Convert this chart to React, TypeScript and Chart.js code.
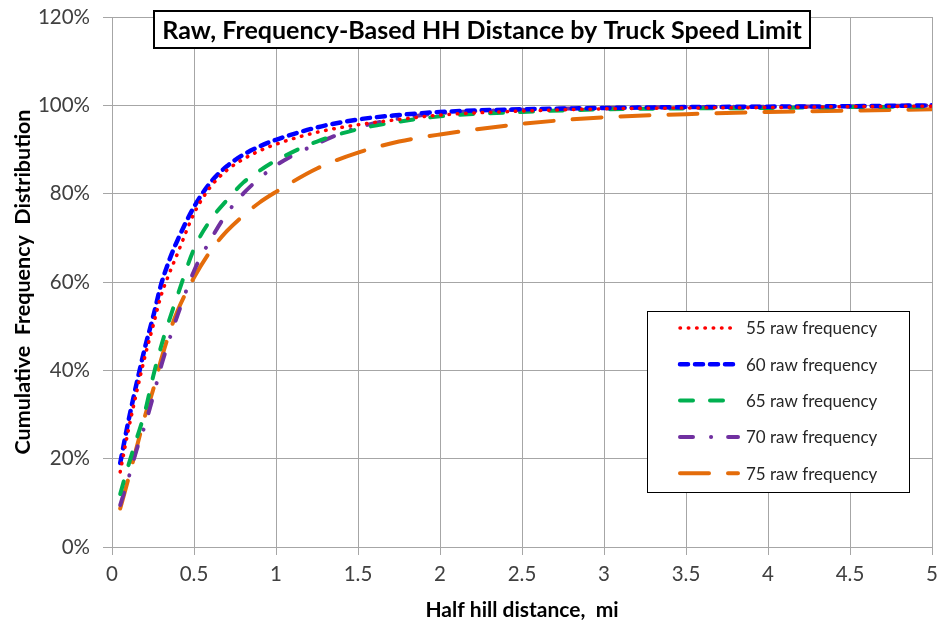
import React, { useEffect, useRef } from 'react';
import { Chart, registerables } from 'chart.js';

Chart.register(...registerables);

const FONT = 'Lato, "Open Sans", sans-serif';

const chartTitle = 'Raw, Frequency-Based HH Distance by Truck Speed Limit';
const xTitle = 'Half hill distance,  mi';
const yTitle = 'Cumulative  Frequency  Distribution';

const distances = [0.05, 0.1, 0.15, 0.2, 0.25, 0.3, 0.35, 0.4, 0.5, 0.6, 0.7, 0.8, 0.9, 1.0, 1.25, 1.5, 1.75, 2.0, 2.5, 3.0, 3.5, 4.0, 4.5, 5.0];

const raw55 = [17, 26.5, 35, 43, 50, 57, 62, 66.5, 75.5, 81.5, 85.3, 87.8, 89.7, 91.2, 93.9, 95.6, 96.8, 97.8, 98.7, 99.2, 99.4, 99.5, 99.7, 99.8];
const raw60 = [19, 28.5, 37, 45, 52, 59.5, 65, 69.5, 77, 82.5, 86.2, 88.8, 90.7, 92.2, 95, 96.8, 97.8, 98.5, 99.1, 99.4, 99.6, 99.7, 99.8, 100];
const raw65 = [12, 18.5, 24.5, 30.5, 38.5, 45.5, 51.5, 57, 67.5, 74, 78.5, 82.5, 85.2, 87.5, 91.8, 94.6, 96.3, 97.5, 98.5, 99.1, 99.3, 99.4, 99.6, 99.7];
const raw70 = [9.5, 15.5, 22, 27.5, 34, 41, 47, 52.5, 62.5, 69.5, 75.5, 80, 83.5, 86.4, 91.3, 95, 97, 98.2, 99, 99.4, 99.6, 99.7, 99.8, 100];
const raw75 = [8.7, 15.5, 22.5, 29.5, 35.5, 42.5, 48.5, 53.5, 61, 67, 71.5, 75, 78, 80.4, 85.7, 89.3, 91.8, 93.4, 95.8, 97.3, 98, 98.5, 98.8, 99.1];

const seriesLabels = ['55 raw frequency', '60 raw frequency', '65 raw frequency', '70 raw frequency', '75 raw frequency'];
const seriesValues = [raw55, raw60, raw65, raw70, raw75];
const seriesColors = ['#FF0000', '#0000FF', '#00B050', '#7030A0', '#E46C0A'];
const seriesWidths = [3.5, 4.5, 4, 4, 4];
const seriesDashes = [[0.5, 7.8], [8, 7], [13, 17], [13, 18, 0.1, 17], [29, 19]];

const titleBoxPlugin = {
  id: 'titleBox',
  afterDraw(chart: any) {
    const ctx = chart.ctx;
    ctx.save();
    const bx = 154, by = 11, bw = 656, bh = 37;
    ctx.fillStyle = '#ffffff';
    ctx.fillRect(bx, by, bw, bh);
    ctx.strokeStyle = '#000000';
    ctx.lineWidth = 2;
    ctx.strokeRect(bx, by, bw, bh);
    ctx.font = `bold 22px ${FONT}`;
    const m = ctx.measureText(chartTitle).width;
    const size = Math.min(26, (22 * 640) / m);
    ctx.font = `bold ${size}px ${FONT}`;
    ctx.fillStyle = '#000000';
    ctx.textAlign = 'center';
    ctx.textBaseline = 'middle';
    ctx.fillText(chartTitle, bx + bw / 2, by + bh / 2 + 1);
    ctx.restore();
  },
};

const boxLegendPlugin = {
  id: 'boxLegend',
  afterDraw(chart: any) {
    const ctx = chart.ctx;
    ctx.save();
    const x0 = 647, y0 = 311, w = 262, h = 181;
    ctx.fillStyle = '#ffffff';
    ctx.fillRect(x0, y0, w, h);
    ctx.strokeStyle = '#000000';
    ctx.lineWidth = 1;
    ctx.strokeRect(x0 + 0.5, y0 + 0.5, w, h);
    chart.data.datasets.forEach((ds: any, i: number) => {
      const cy = 328 + i * 36.3;
      ctx.save();
      ctx.strokeStyle = ds.borderColor;
      ctx.lineWidth = ds.borderWidth;
      ctx.setLineDash(ds.borderDash || []);
      ctx.lineCap = 'round';
      ctx.beginPath();
      ctx.moveTo(680, cy);
      ctx.lineTo(738, cy);
      ctx.stroke();
      ctx.restore();
      ctx.fillStyle = '#262626';
      ctx.font = `17px ${FONT}`;
      ctx.textAlign = 'left';
      ctx.textBaseline = 'middle';
      ctx.fillText(ds.label, 746, cy + 1);
    });
    ctx.restore();
  },
};

export default function App() {
  const ref = useRef<HTMLCanvasElement>(null);
  useEffect(() => {
    if (!ref.current) return;
    const chart = new Chart(ref.current, {
      type: 'line',
      data: {
        datasets: seriesLabels.map((label, i) => ({
          label,
          data: distances.map((d, j) => ({ x: d, y: seriesValues[i][j] })),
          borderColor: seriesColors[i],
          backgroundColor: seriesColors[i],
          borderWidth: seriesWidths[i],
          borderDash: seriesDashes[i],
          borderCapStyle: 'round',
          pointRadius: 0,
          fill: false,
          cubicInterpolationMode: 'monotone',
        })),
      },
      options: {
        responsive: false,
        animation: false,
        layout: { padding: { top: 17, right: 8, left: 0, bottom: 0 } },
        plugins: {
          legend: { display: false },
          title: { display: false },
          tooltip: { enabled: false },
        },
        scales: {
          x: {
            type: 'linear',
            min: 0,
            max: 5,
            ticks: {
              stepSize: 0.5,
              color: '#404040',
              font: { family: FONT, size: 20.5 },
              padding: 7,
              maxRotation: 0,
              callback: (v: any) => String(Math.round(Number(v) * 100) / 100),
            },
            grid: { color: '#a6a6a6', lineWidth: 1, tickLength: 8 },
            border: { color: '#a6a6a6' },
            title: { display: true, text: xTitle, color: '#000000', font: { family: FONT, size: 21, weight: 'bold' }, padding: { top: 1, bottom: 1 } },
            afterFit: (s: any) => {
              s.height = 77;
              s.paddingLeft = 0;
              s.paddingRight = 0;
            },
          },
          y: {
            min: 0,
            max: 120,
            ticks: { stepSize: 20, color: '#404040', font: { family: FONT, size: 20.5 }, padding: 13, callback: (v: any) => v + '%' },
            grid: { color: '#a6a6a6', lineWidth: 1, tickLength: 9 },
            border: { color: '#a6a6a6' },
            title: { display: true, text: yTitle, color: '#000000', font: { family: FONT, size: 21.5, weight: 'bold' }, padding: { top: 10, bottom: 10 } },
            afterFit: (s: any) => {
              s.width = 112;
              s.paddingTop = 0;
              s.paddingBottom = 0;
            },
          },
        },
      },
      plugins: [titleBoxPlugin, boxLegendPlugin],
    } as any);
    return () => chart.destroy();
  }, []);
  return (
    <div style={{ position: 'absolute', left: 0, top: 0, width: 940, height: 624, background: '#fff' }}>
      <canvas ref={ref} width={940} height={624} />
    </div>
  );
}
